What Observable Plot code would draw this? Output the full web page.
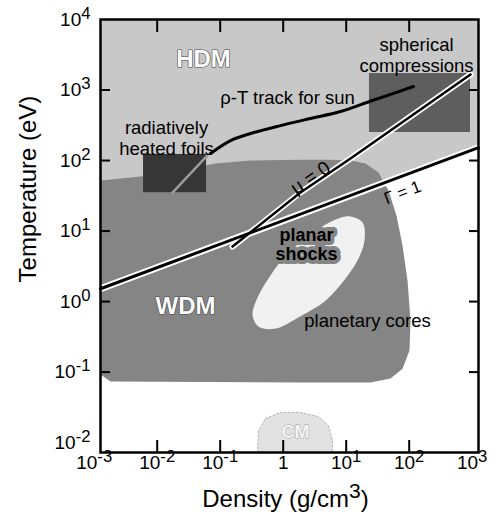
<!DOCTYPE html>
<html><head><meta charset="utf-8">
<script src="https://cdn.jsdelivr.net/npm/d3@7"></script>
<script src="https://cdn.jsdelivr.net/npm/@observablehq/plot@0.6"></script>
<style>
html,body{margin:0;padding:0;background:#fff;}
#chart{width:496px;height:523px;overflow:hidden;}
</style></head>
<body><div id="chart"></div>
<script>
// ---------- data: density (g/cm³) and temperature (eV) ----------
// HDM (hot dense matter) region: above the Γ = 1 line
const hdmRho = [0.00126, 1259, 1259, 0.00126];
const hdmT   = [10000, 10000, 152, 1.52];

// WDM (warm dense matter) region outline
const wdmRho = [0.00126, 0.00543, 0.0234, 0.0841, 0.303, 1.88, 5.64, 11.7, 20.2, 32.6, 46.9, 62.8, 78.3, 94.0, 105, 101, 78.3, 50.5, 24.3, 1.88, 0.00182, 0.00126];
const wdmT   = [52.0, 59.3, 72.1, 90.6, 100, 103, 103, 100, 90.6, 67.6, 37.5, 16.6, 6.22, 1.99, 0.537, 0.202, 0.112, 0.0809, 0.0710, 0.0710, 0.0733, 0.0923];

// planar shocks (white blob)
const shockRho = [11.7, 18.2, 19.5, 15.7, 9.75, 4.69, 1.88, 0.755, 0.406, 0.326, 0.406, 0.628, 1.09, 2.26, 4.69, 8.13];
const shockT   = [16.1, 13.2, 7.33, 4.07, 2.12, 1.03, 0.62, 0.414, 0.442, 0.655, 1.22, 2.34, 4.49, 7.83, 12.4, 15.5];

// CM dome at the bottom
const cmRho = [0.391, 0.406, 0.524, 0.906, 1.88, 3.63, 5.24, 6.07, 6.07];
const cmT   = [0.00721, 0.0148, 0.0219, 0.0267, 0.0267, 0.0234, 0.0174, 0.0107, 0.00721];

// experiment boxes
const boxName = ["radiatively heated foils", "spherical compressions"];
const boxRho1 = [0.00607, 23.4], boxRho2 = [0.0607, 940];
const boxT1   = [35, 250],       boxT2   = [122, 1714];

// lines
const gammaRho = [0.00126, 1259];
const gammaT   = [1.52, 152];
const muRho = [0.157, 1.88, 11.7, 940];
const muT   = [6.03, 35.2, 107, 1660];
const sunRho = [0.0702, 0.146, 0.303, 0.906, 2.71, 8.13, 26.1, 117];
const sunT   = [126, 192, 242, 313, 394, 495, 710, 1122];
const sunFoilRho = [0.0175, 0.0628];
const sunFoilT   = [35.2, 118];

// labels
const regionNames = ["HDM", "WDM"];
const regionRho = [0.0543, 0.0281];
const regionT   = [2710, 0.849];
const noteText = ["ρ-T track for sun", "spherical\ncompressions", "radiatively\nheated foils", "planetary cores"];
const noteRho  = [1.17, 130.6, 0.01406, 21.8];
const noteT    = [783, 3134, 208, 0.537];
const shockText = ["planar\nshocks"];
const shockLabRho = [2.34];
const shockLabT   = [6.5];
const cmText = ["CM"], cmLabRho = [1.57], cmLabT = [0.0139];
const lineLabText  = ["μ = 0", "Γ = 1"];
const lineLabRho   = [2.71, 78.3];
const lineLabT     = [57, 35.2];
const lineLabAngle = [-34, -21];
const lineLabSize  = [19, 17];

// axes
const xTicks  = [1e-2, 1e-1, 1, 10, 100];
const xLabels = [1e-3, 1e-2, 1e-1, 1, 10, 100, 1000];
const yTicks  = [1e-1, 1, 10, 100, 1000];
const yLabels = [1e-2, 1e-1, 1, 10, 100, 1000, 1e4];
const xTitle = "Density (g/cm^3)";
const yTitle = "Temperature (eV)";

// ---------- build ----------
const pts = (xs, ys) => xs.map((x, i) => ({x, y: ys[i]}));
const lab = (ts, xs, ys, a, s) => ts.map((t, i) => ({t, x: xs[i], y: ys[i], a: a ? a[i] : 0, s: s ? s[i] : 16}));
const boxes = boxName.map((n, i) => ({n, x1: boxRho1[i], x2: boxRho2[i], y1: boxT1[i], y2: boxT2[i]}));
const exp = d => Math.round(Math.log10(d));
const fmtX = d => d === 1 ? "1" : "10^" + exp(d);
const fmtY = d => "10^" + exp(d);

const C_HDM = "#c8c8c8", C_WDM = "#858585";

const svg = Plot.plot({
  width: 496, height: 523,
  marginTop: 19, marginBottom: 71, marginLeft: 100, marginRight: 18,
  x: {type: "log", domain: [10 ** -2.9, 10 ** 3.1]},
  y: {type: "log", domain: [10 ** -2.14, 10 ** 4]},
  style: {fontFamily: "'Liberation Sans', Arial, Helvetica, sans-serif", fontSize: "18px", background: "white", color: "black"},
  marks: [
    Plot.line(pts(hdmRho, hdmT), {x: "x", y: "y", fill: C_HDM, stroke: "none", curve: "linear-closed"}),
    Plot.line(pts(wdmRho, wdmT), {x: "x", y: "y", fill: C_WDM, stroke: "none", curve: "linear-closed"}),
    Plot.line(pts(shockRho, shockT), {x: "x", y: "y", fill: "#f1f1f1", stroke: "none", curve: "catmull-rom-closed"}),
    Plot.line(pts(cmRho, cmT), {x: "x", y: "y", fill: "#e2e2e2", stroke: "#b5b5b5", strokeWidth: 1, strokeDasharray: "2,2", curve: "linear-closed"}),
    Plot.rect(boxes, {x1: "x1", x2: "x2", y1: "y1", y2: "y2", fill: (d, i) => i === 0 ? "#363636" : "#5e5e5e"}),
    Plot.line(pts(sunFoilRho, sunFoilT), {x: "x", y: "y", stroke: "#9c9c9c", strokeWidth: 2.5}),
    Plot.line(pts(gammaRho, gammaT), {x: "x", y: "y", stroke: "white", strokeWidth: 7}),
    Plot.line(pts(muRho, muT), {x: "x", y: "y", stroke: "white", strokeWidth: 6}),
    Plot.line(pts(gammaRho, gammaT), {x: "x", y: "y", stroke: "black", strokeWidth: 3}),
    Plot.line(pts(muRho, muT), {x: "x", y: "y", stroke: "black", strokeWidth: 2.5}),
    Plot.line(pts(sunRho, sunT), {x: "x", y: "y", stroke: "black", strokeWidth: 3, curve: "catmull-rom"}),
    Plot.text(lab(regionNames, regionRho, regionT), {x: "x", y: "y", text: "t", fill: "white", stroke: "#444", strokeWidth: 1.2, fontWeight: "bold", fontSize: 24}),
    Plot.text(lab(noteText, noteRho, noteT), {x: "x", y: "y", text: "t", fill: "black", fontSize: 18.5, lineHeight: 1.12}),
    Plot.text(lab(shockText, shockLabRho, shockLabT), {x: "x", y: "y", text: "t", fill: "black", stroke: C_WDM, strokeWidth: 8, paintOrder: "stroke", fontSize: 18, fontWeight: "bold", lineHeight: 1.05}),
    Plot.text(lab(cmText, cmLabRho, cmLabT), {x: "x", y: "y", text: "t", fill: "#f6f6f6", stroke: "#9a9a9a", strokeWidth: 0.8, fontSize: 18, fontWeight: "bold"}),
    Plot.text(lab(lineLabText, lineLabRho, lineLabT, lineLabAngle, lineLabSize), {x: "x", y: "y", text: "t", rotate: "a", fontSize: "s", fill: "black"}),
    // inward ticks
    Plot.axisX({anchor: "bottom", ticks: xTicks, tickSize: 12, insetBottom: 12, fill: "none", strokeWidth: 2}),
    Plot.axisX({anchor: "top", ticks: xTicks, tickSize: 12, insetTop: 12, fill: "none", strokeWidth: 2}),
    Plot.axisY({anchor: "left", ticks: yTicks, tickSize: 10, insetLeft: 10, fill: "none", strokeWidth: 2}),
    Plot.axisY({anchor: "right", ticks: yTicks, tickSize: 10, insetRight: 10, fill: "none", strokeWidth: 2}),
    // tick labels
    Plot.axisX({anchor: "bottom", ticks: xLabels, tickSize: 0, tickPadding: 3, tickFormat: fmtX, fontSize: 19, label: null}),
    Plot.axisY({anchor: "left", ticks: yLabels, tickSize: 0, tickPadding: 10, tickFormat: fmtY, fontSize: 19, label: null}),
    // titles
    Plot.text([yTitle], {frameAnchor: "left", textAnchor: "middle", lineAnchor: "middle", dx: -72, dy: -47, rotate: -90, fontSize: 24, fill: "black"}),
    Plot.text([xTitle], {frameAnchor: "bottom", textAnchor: "middle", lineAnchor: "middle", dx: -4, dy: 47, fontSize: 24, fill: "black"}),
    Plot.frame({stroke: "black", strokeWidth: 2.5})
  ]
});

// superscripts for "10^k" style texts
const NS = "http://www.w3.org/2000/svg";
svg.querySelectorAll("text").forEach(t => {
  if (t.querySelector("tspan")) return;
  const s = t.textContent;
  const i = s.indexOf("^");
  if (i < 0) return;
  const m = s.slice(i + 1).match(/^(-?\d+)(.*)$/);
  if (!m) return;
  t.textContent = s.slice(0, i);
  const sup = document.createElementNS(NS, "tspan");
  sup.setAttribute("dy", "-0.42em");
  sup.setAttribute("font-size", "0.88em");
  sup.textContent = m[1];
  t.appendChild(sup);
  if (m[2]) {
    const after = document.createElementNS(NS, "tspan");
    after.setAttribute("dy", "0.37em");
    after.textContent = m[2];
    t.appendChild(after);
  }
});

document.getElementById("chart").appendChild(svg);
</script>
</body></html>
